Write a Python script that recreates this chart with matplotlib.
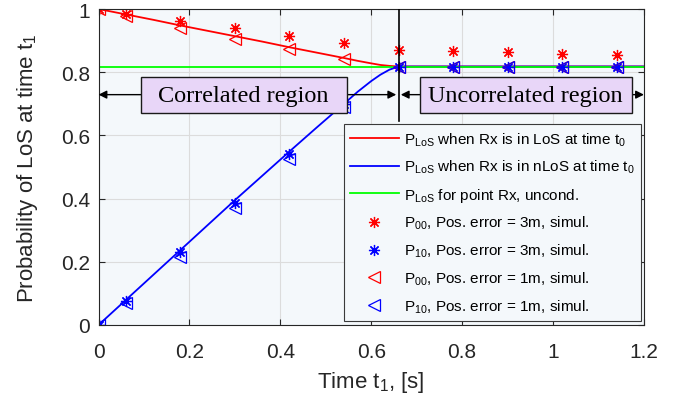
import matplotlib
matplotlib.use("Agg")
import matplotlib.pyplot as plt
from matplotlib.patches import Rectangle

plt.rcParams["font.family"] = ["Liberation Sans", "DejaVu Sans"]
plt.rcParams["mathtext.default"] = "regular"

# analytical curves
t_line = [0, 0.06, 0.12, 0.18, 0.24, 0.30, 0.36, 0.42, 0.48, 0.54, 0.57, 0.60, 0.62, 0.64, 0.66, 1.2]
p_los = [1.0, 0.983, 0.966, 0.948, 0.931, 0.914, 0.897, 0.879, 0.862, 0.845, 0.836, 0.828, 0.823, 0.820, 0.818, 0.818]
p_nlos = [0.0, 0.079, 0.158, 0.237, 0.316, 0.395, 0.472, 0.549, 0.625, 0.700, 0.738, 0.772, 0.792, 0.808, 0.818, 0.818]
t_uncond = [0, 1.2]
p_uncond = [0.818, 0.818]

# simulation points
t_sim = [0, 0.06, 0.18, 0.30, 0.42, 0.54, 0.66, 0.78, 0.90, 1.02, 1.14]
p00_3m = [1.0, 0.985, 0.962, 0.939, 0.916, 0.892, 0.870, 0.868, 0.864, 0.859, 0.856]
p10_3m = [0.0, 0.077, 0.232, 0.386, 0.541, 0.700, 0.818, 0.818, 0.818, 0.818, 0.818]
p00_1m = [1.0, 0.977, 0.940, 0.905, 0.873, 0.842, 0.818, 0.818, 0.818, 0.818, 0.818]
p10_1m = [0.0, 0.070, 0.216, 0.370, 0.525, 0.690, 0.818, 0.818, 0.818, 0.818, 0.818]

t_split = 0.66

fig = plt.figure(figsize=(6.88, 4.14), dpi=100)
ax = fig.add_axes([0.1432, 0.2126, 0.7928, 0.7632])
ax.set_facecolor("#F4F8FB")

ax.plot(t_line, p_los, color="#FF0000", lw=1.3,
        label=r"$P_{LoS}$ when Rx is in LoS at time $t_0$")
ax.plot(t_line, p_nlos, color="#0000FF", lw=1.3,
        label=r"$P_{LoS}$ when Rx is in nLoS at time $t_0$")
ax.plot(t_uncond, p_uncond, color="#00FF00", lw=1.3,
        label=r"$P_{LoS}$ for point Rx, uncond.")

ast = (8, 2, 0)
ax.plot(t_sim, p00_3m, ls="none", marker=ast, ms=8, mec="#FF0000", mew=0.9,
        label=r"$P_{00}$, Pos. error = 3m, simul.")
ax.plot(t_sim, p10_3m, ls="none", marker=ast, ms=8, mec="#0000FF", mew=0.9,
        label=r"$P_{10}$, Pos. error = 3m, simul.")
ax.plot(t_sim, p00_1m, ls="none", marker="<", ms=8, mfc="none", mec="#FF0000", mew=0.9,
        label=r"$P_{00}$, Pos. error = 1m, simul.")
ax.plot(t_sim, p10_1m, ls="none", marker="<", ms=8, mfc="none", mec="#0000FF", mew=0.9,
        label=r"$P_{10}$, Pos. error = 1m, simul.")

# region separator and annotations
ax.plot([t_split, t_split], [0.647, 1.0], color="k", lw=1.2, zorder=4)
arrow_y = 0.729
arrow = dict(arrowstyle="<|-|>", color="k", lw=1.0, mutation_scale=12, shrinkA=0, shrinkB=0)
ax.annotate("", xy=(0.0, arrow_y), xytext=(t_split - 0.005, arrow_y), arrowprops=arrow, zorder=3)
ax.annotate("", xy=(t_split + 0.005, arrow_y), xytext=(1.2, arrow_y), arrowprops=arrow, zorder=3)

for x0, x1, txt in [(0.093, 0.546, "Correlated region"), (0.707, 1.173, "Uncorrelated region")]:
    ax.add_patch(Rectangle((x0, 0.670), x1 - x0, 0.115, facecolor="#E8D6F8",
                           edgecolor="#1a1a1a", lw=1.0, zorder=5))
    ax.text((x0 + x1) / 2, 0.727, txt, ha="center", va="center", fontsize=17.5,
            family="Liberation Serif", zorder=6)

ax.set_xlim(0, 1.2)
ax.set_ylim(0, 1)
ax.set_xticks([0, 0.2, 0.4, 0.6, 0.8, 1, 1.2])
ax.set_xticklabels(["0", "0.2", "0.4", "0.6", "0.8", "1", "1.2"])
ax.set_yticks([0, 0.2, 0.4, 0.6, 0.8, 1])
ax.set_yticklabels(["0", "0.2", "0.4", "0.6", "0.8", "1"])
ax.grid(True, color="#DCDCDC", lw=0.8)
ax.set_axisbelow(True)
ax.tick_params(direction="in", top=True, right=True, length=4, labelsize=15,
               colors="#262626", pad=6)
ax.tick_params(axis="x", pad=12)
for sp in ax.spines.values():
    sp.set_color("#262626")
    sp.set_linewidth(0.8)

ax.set_xlabel(r"Time $t_1$, [s]", fontsize=16, color="#262626", labelpad=6)
ax.set_ylabel(r"Probability of LoS at time $t_1$", fontsize=16, color="#262626", labelpad=15)

leg = ax.legend(loc="lower right", bbox_to_anchor=(0.9945, 0.0127), borderaxespad=0,
                fontsize=11, numpoints=1, handlelength=3.2, handletextpad=0.35,
                labelspacing=0.68, fancybox=False, framealpha=1, borderpad=0.4)
leg.get_frame().set_facecolor("#F4F8FB")
leg.get_frame().set_edgecolor("#3a3a3a")
leg.get_frame().set_linewidth(0.8)
leg.set_zorder(7)

fig.savefig("out.png", dpi=100)
